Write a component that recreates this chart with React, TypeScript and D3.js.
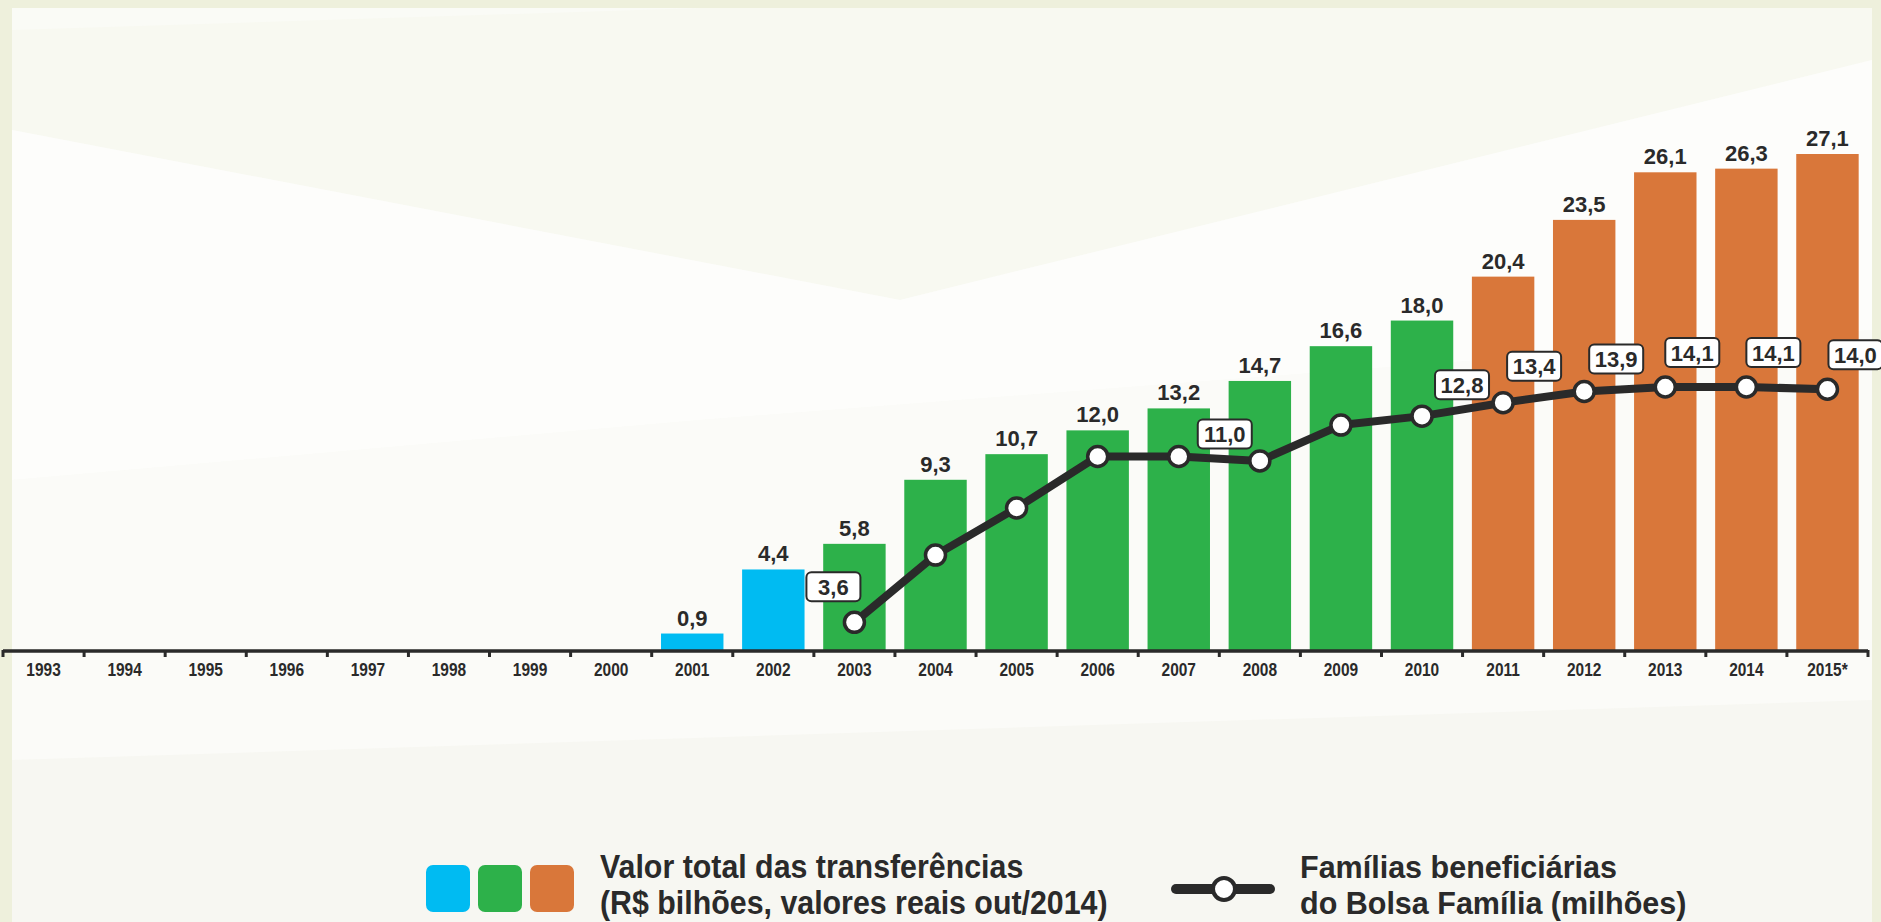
import React from 'react';
import * as d3 from 'd3';

// anos do eixo
const anos = ['1993', '1994', '1995', '1996', '1997', '1998', '1999', '2000', '2001', '2002', '2003', '2004',
  '2005', '2006', '2007', '2008', '2009', '2010', '2011', '2012', '2013', '2014', '2015'];
const anosRotulo = ['1993', '1994', '1995', '1996', '1997', '1998', '1999', '2000', '2001', '2002', '2003', '2004',
  '2005', '2006', '2007', '2008', '2009', '2010', '2011', '2012', '2013', '2014', '2015*'];

// valor total das transferencias (R$ bilhoes)
const anosTransf = ['2001', '2002', '2003', '2004', '2005', '2006', '2007', '2008', '2009', '2010',
  '2011', '2012', '2013', '2014', '2015'];
const valorTransf = [0.9, 4.4, 5.8, 9.3, 10.7, 12.0, 13.2, 14.7, 16.6, 18.0, 20.4, 23.5, 26.1, 26.3, 27.1];
const periodoTransf = ['pre', 'pre', 'pbf', 'pbf', 'pbf', 'pbf', 'pbf', 'pbf', 'pbf', 'pbf',
  'bsm', 'bsm', 'bsm', 'bsm', 'bsm'];

// familias beneficiarias (milhoes)
const anosFamilias = ['2003', '2004', '2005', '2006', '2007', '2008', '2009', '2010', '2011', '2012', '2013', '2014', '2015'];
const familias = [3.6, 6.6, 8.7, 11.0, 11.0, 10.8, 12.4, 12.8, 13.4, 13.9, 14.1, 14.1, 14.0];
const familiasRotuladas = ['2003', '2007', '2010', '2011', '2012', '2013', '2014', '2015'];

const cores: Record<string, string> = { pre: '#00bbf2', pbf: '#2db14a', bsm: '#d9773a' };
const escuro = '#2a2a2a';
const fonte = 'Liberation Sans, Arial, sans-serif';

const fmt = (v: number) => d3.format('.1f')(v).replace('.', ',');

// deslocamento das caixinhas dos rotulos da linha (esquerda, base) em relacao ao ponto
const offsetCaixa: Record<string, [number, number]> = {
  '2003': [-48, -21], '2007': [19, -8], '2010': [13, -17], '2011': [4, -22],
  '2012': [5, -18], '2013': [0, -20], '2014': [0, -20], '2015': [1, -20],
};

const W = 1881;
const H = 922;

export default function App() {
  const x = d3.scaleBand<string>().domain(anos).range([3, 1868]).paddingInner(0.23).paddingOuter(0.115);
  const yBar = d3.scaleLinear().domain([0, 27.1]).range([650, 154]);
  const yLin = d3.scaleLinear().domain([0, 14.1]).range([703, 387]);
  const step = x.step();
  const base = yBar(0);

  const pts = anosFamilias.map((a, i) => ({ ano: a, v: familias[i], cx: x(a)! + x.bandwidth() / 2, cy: yLin(familias[i]) }));
  const linha = d3.line<{ cx: number; cy: number }>().x(d => d.cx).y(d => d.cy);

  return (
    <svg width={W} height={H} style={{ position: 'absolute', left: 0, top: 0 }}>
      {/* fundo */}
      <rect x={0} y={0} width={W} height={H} fill="#eef0dc" />
      <rect x={12} y={8} width={1860} height={H - 8} fill="#fafbf6" />
      <polygon points="12,30 700,8 1872,8 1872,60 900,300 12,130" fill="#f8f9f1" />
      <polygon points="12,130 900,300 1872,60 1872,330 700,420 12,480" fill="#fdfdfb" />
      <polygon points="12,480 700,420 1872,330 1872,700 12,760" fill="#fbfbf8" />
      <polygon points="12,760 1872,700 1872,922 12,922" fill="#f7f7f2" />
      <rect x={0} y={0} width={W} height={8} fill="#eef0dc" />

      {/* barras */}
      {anosTransf.map((a, i) => (
        <g key={a}>
          <rect x={x(a)} y={yBar(valorTransf[i])} width={x.bandwidth()} height={base - yBar(valorTransf[i])}
            fill={cores[periodoTransf[i]]} />
          <text x={x(a)! + x.bandwidth() / 2} y={yBar(valorTransf[i]) - 8} textAnchor="middle"
            fontFamily={fonte} fontWeight="bold" fontSize={22} fill={escuro}>{fmt(valorTransf[i])}</text>
        </g>
      ))}

      {/* eixo */}
      <line x1={3} x2={1868} y1={base + 1} y2={base + 1} stroke={escuro} strokeWidth={3.5} />
      {d3.range(anos.length + 1).map(i => (
        <line key={i} x1={3 + i * step} x2={3 + i * step} y1={base} y2={base + 7} stroke={escuro} strokeWidth={3} />
      ))}
      {anos.map((a, i) => (
        <g key={a} transform={`translate(${x(a)! + x.bandwidth() / 2},676) scale(0.86,1)`}>
          <text textAnchor="middle" fontFamily={fonte} fontWeight="bold" fontSize={18} fill={escuro}>{anosRotulo[i]}</text>
        </g>
      ))}

      {/* linha familias */}
      <path d={linha(pts) ?? ''} fill="none" stroke={escuro} strokeWidth={8} strokeLinejoin="round" />
      {pts.map(p => (
        <circle key={p.ano} cx={p.cx} cy={p.cy} r={10} fill="#fff" stroke={escuro} strokeWidth={3.5} />
      ))}
      {pts.filter(p => familiasRotuladas.includes(p.ano)).map(p => {
        const [dx, dy] = offsetCaixa[p.ano] ?? [0, -20];
        const bw = 54;
        const bh = 29;
        const bx = p.cx + dx;
        const by = p.cy + dy - bh;
        return (
          <g key={'r' + p.ano}>
            <rect x={bx} y={by} width={bw} height={bh} rx={5} fill="#fff" stroke={escuro} strokeWidth={2} />
            <text x={bx + bw / 2} y={by + bh / 2 + 8} textAnchor="middle" fontFamily={fonte} fontWeight="bold"
              fontSize={22} fill={escuro}>{fmt(p.v)}</text>
          </g>
        );
      })}

      {/* legenda */}
      {['pre', 'pbf', 'bsm'].map((k, i) => (
        <rect key={k} x={426 + i * 52} y={865} width={44} height={47} rx={7} fill={cores[k]} />
      ))}
      <g transform="translate(600,0) scale(0.92,1)">
        <text fontFamily={fonte} fontWeight="bold" fontSize={33} fill={escuro}>
          <tspan x={0} y={878}>Valor total das transferências</tspan>
          <tspan x={0} y={914}>(R$ bilhões, valores reais out/2014)</tspan>
        </text>
      </g>
      <line x1={1176} x2={1270} y1={889} y2={889} stroke={escuro} strokeWidth={10} strokeLinecap="round" />
      <circle cx={1224} cy={889} r={11} fill="#fff" stroke={escuro} strokeWidth={4} />
      <text fontFamily={fonte} fontWeight="bold" fontSize={30.5} fill={escuro}>
        <tspan x={1300} y={878}>Famílias beneficiárias</tspan>
        <tspan x={1300} y={914}>do Bolsa Família (milhões)</tspan>
      </text>
    </svg>
  );
}
